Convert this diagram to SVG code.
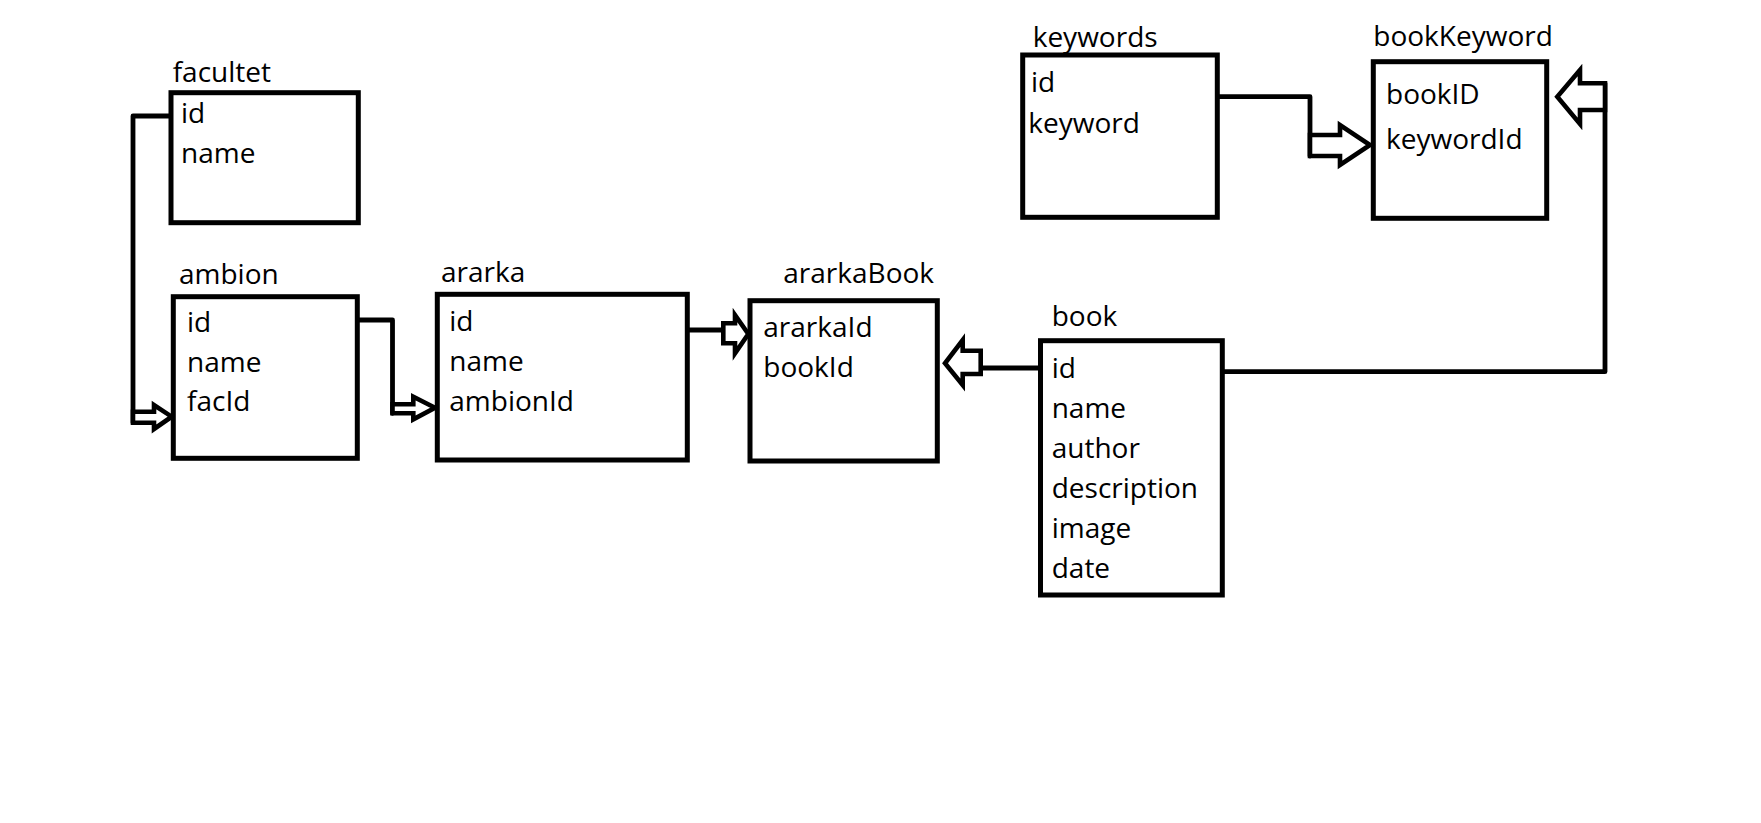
<svg xmlns="http://www.w3.org/2000/svg" width="1761" height="823" viewBox="0 0 1761 823">
<style>
.box{fill:#fff;stroke:#000;stroke-width:5}
.t{font-family:"Open Sans","Noto Sans","Liberation Sans",sans-serif;font-size:28px;fill:#000}
.ln{fill:none;stroke:#000;stroke-width:4.8;stroke-linecap:round;stroke-linejoin:round}
.ar{fill:#fff;stroke:#000;stroke-width:4.6;stroke-linejoin:miter}
</style>
<rect width="1761" height="823" fill="#fff"/>
<g id="connectors">
<path class="ln" d="M171,116 H133 V422.7"/>
<path class="ar" d="M133,411.7 H154 V405 L171.7,416.7 L154,429 V422.7 H133 Z"/>
<path class="ln" d="M357,320 H392.5 V413.3"/>
<path class="ar" d="M392.5,404.3 H413.3 V396.7 L435,407.7 L413.3,419.3 V413.3 H392.5 Z"/>
<path class="ln" d="M687,330 H723.3"/>
<path class="ar" d="M723.3,323.3 H735 V315 L748.3,334 L735,353.3 V343.3 H723.3 Z"/>
<path class="ln" d="M1040.5,368 H980.7"/>
<path class="ar" d="M980.7,350.7 H962.7 V340 L945,363.3 L962.7,385 V374 H980.7 Z"/>
<path class="ln" d="M1215,96.7 H1310 V156"/>
<path class="ar" d="M1310,135 H1340 V125 L1370,145 L1340,165 V156 H1310 Z"/>
<path class="ln" d="M1222,371.7 H1605 V83.3"/>
<path class="ar" d="M1605,83.3 H1580 V70 L1557.3,96.7 L1580,124 V110 H1605 Z"/>
</g>
<g id="facultet">
<rect class="box" x="171" y="92.7" width="187.3" height="130"/>
<text class="t" x="172.7" y="81.7">facultet</text>
<text class="t" x="181" y="123.3">id</text>
<text class="t" x="181" y="163.3">name</text>
</g>
<g id="ambion">
<rect class="box" x="173.3" y="296.7" width="184" height="161.6"/>
<text class="t" x="179" y="284">ambion</text>
<text class="t" x="187" y="331.7">id</text>
<text class="t" x="187" y="371.7">name</text>
<text class="t" x="187" y="410.7">facId</text>
</g>
<g id="ararka">
<rect class="box" x="437.3" y="294.3" width="250" height="165.7"/>
<text class="t" x="441" y="281.7">ararka</text>
<text class="t" x="449.3" y="330.7">id</text>
<text class="t" x="449.3" y="370.7">name</text>
<text class="t" x="449.3" y="410.7">ambionId</text>
</g>
<g id="ararkaBook">
<rect class="box" x="750" y="300.7" width="187.3" height="160.3"/>
<text class="t" x="783.3" y="283.3">ararkaBook</text>
<text class="t" x="763.3" y="337.3">ararkaId</text>
<text class="t" x="763.3" y="377.3">bookId</text>
</g>
<g id="book">
<rect class="box" x="1040.5" y="340.7" width="181.8" height="254.3"/>
<text class="t" x="1051.7" y="326">book</text>
<text class="t" x="1051.7" y="378.3">id</text>
<text class="t" x="1051.7" y="418.3">name</text>
<text class="t" x="1051.7" y="458.3">author</text>
<text class="t" x="1051.7" y="498.3">description</text>
<text class="t" x="1051.7" y="538.3">image</text>
<text class="t" x="1051.7" y="578.3">date</text>
</g>
<g id="keywords">
<rect class="box" x="1022.7" y="55" width="194.6" height="162.3"/>
<text class="t" x="1032.7" y="46.7">keywords</text>
<text class="t" x="1031" y="92.3">id</text>
<text class="t" x="1028.3" y="133.3">keyword</text>
</g>
<g id="bookKeyword">
<rect class="box" x="1373.3" y="61.7" width="173.4" height="156.6"/>
<text class="t" x="1373.3" y="46">bookKeyword</text>
<text class="t" x="1386" y="104">bookID</text>
<text class="t" x="1386" y="149">keywordId</text>
</g>
</svg>
